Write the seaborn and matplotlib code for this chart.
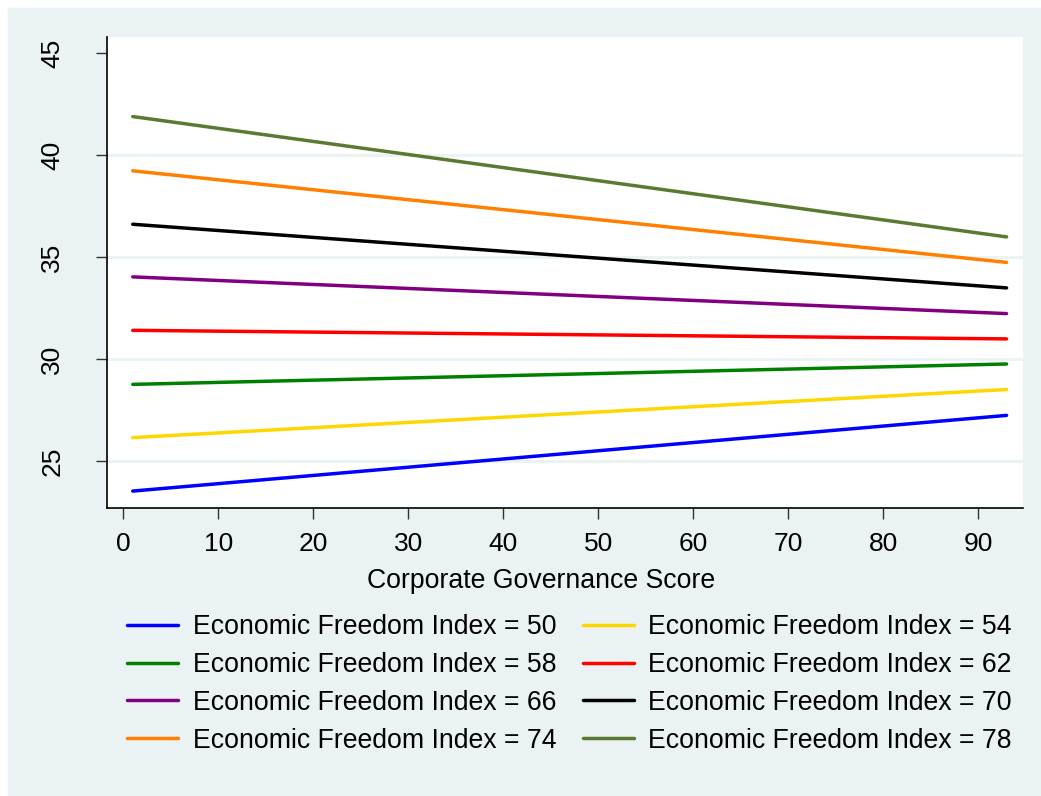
import numpy as np
import pandas as pd
import seaborn as sns
import matplotlib.pyplot as plt
from matplotlib.patches import Rectangle

# predicted margins at the two ends of the governance score range
gov_score = [1, 93]
efi_levels = [50, 54, 58, 62, 66, 70, 74, 78]
start_vals = [23.54, 26.16, 28.77, 31.42, 34.04, 36.62, 39.24, 41.90]
end_vals = [27.25, 28.52, 29.77, 31.00, 32.24, 33.50, 34.75, 36.00]
colors = ['#0000FF', '#FFD700', '#008000', '#FF0000',
          '#800080', '#000000', '#FF8000', '#5A7A32']

bg = '#EAF2F3'

rows = []
for lvl, s, e in zip(efi_levels, start_vals, end_vals):
    lab = 'Economic Freedom Index = %d' % lvl
    rows.append((gov_score[0], s, lab))
    rows.append((gov_score[1], e, lab))
df = pd.DataFrame(rows, columns=['score', 'margin', 'level'])
labels = ['Economic Freedom Index = %d' % l for l in efi_levels]

sns.set_style('white')
plt.rcParams['font.family'] = ['Liberation Sans', 'DejaVu Sans']
plt.rcParams['text.color'] = 'black'
plt.rcParams['axes.labelcolor'] = 'black'
plt.rcParams['xtick.color'] = 'black'
plt.rcParams['ytick.color'] = 'black'

fig = plt.figure(figsize=(10.41, 7.96), dpi=100, facecolor='white')
fig.patches.append(Rectangle((8 / 1041, 0), 1, 1 - 8 / 796,
                             transform=fig.transFigure, color=bg, zorder=-10))
ax = fig.add_axes([107.3 / 1041, 1 - 508 / 796, 915.4 / 1041, 471 / 796])
ax.set_facecolor('white')

sns.lineplot(data=df, x='score', y='margin', hue='level', hue_order=labels,
             palette=dict(zip(labels, colors)), linewidth=2.5, ax=ax,
             legend=True)

ax.set_xlim(-1.68, 94.7)
ax.set_ylim(22.71, 45.8)
ax.set_xticks(range(0, 100, 10))
ax.set_yticks([25, 30, 35, 40, 45])
for g in [25, 30, 35, 40]:
    ax.axhline(g, color=bg, lw=2, zorder=0)

for side in ['top', 'right']:
    ax.spines[side].set_visible(False)
for side in ['left', 'bottom']:
    ax.spines[side].set_color('black')
    ax.spines[side].set_linewidth(1.2)
ax.tick_params(axis='both', direction='out', length=8, width=1,
               color='#333333', labelsize=19, bottom=True, left=True)
ax.tick_params(axis='x', pad=9)
ax.tick_params(axis='y', pad=23)
plt.setp(ax.get_yticklabels(), rotation=90, va='center')
ax.set_xlabel('Corporate Governance Score', fontsize=19.2, labelpad=9)
ax.xaxis.label.set_x(0.474)
ax.set_ylabel('')

handles, labs = ax.get_legend_handles_labels()
ax.get_legend().remove()
order = [0, 2, 4, 6, 1, 3, 5, 7]
leg = fig.legend([handles[i] for i in order], [labs[i] for i in order],
                 ncol=2, loc='upper left', bbox_to_anchor=(114 / 1041, 1 - 601 / 796),
                 frameon=False, fontsize=19.2, handlelength=1.9,
                 handletextpad=0.55, columnspacing=1.0, labelspacing=0.44,
                 borderpad=0)
for line in leg.get_lines():
    line.set_linewidth(2.5)

plt.savefig('out.png', dpi=100, facecolor='white')
